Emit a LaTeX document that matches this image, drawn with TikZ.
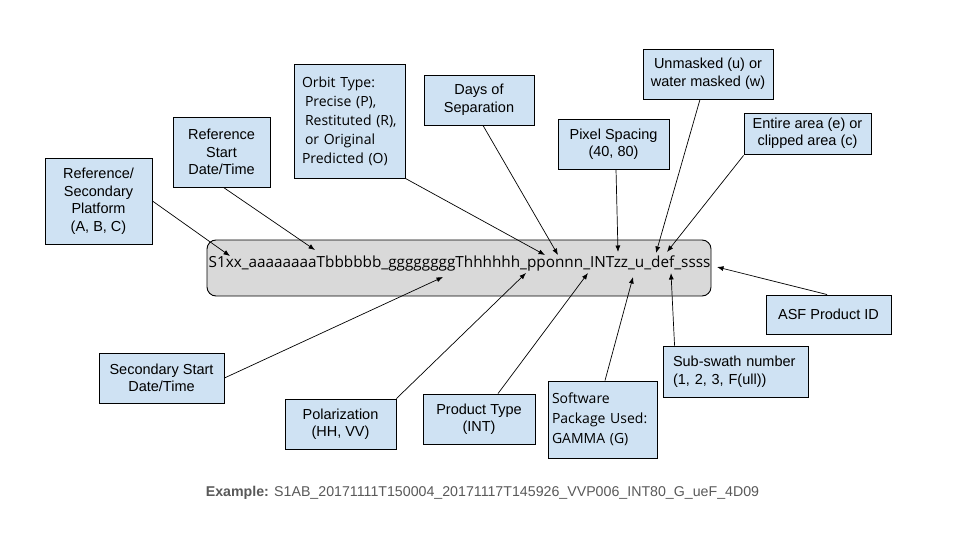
\documentclass[tikz,border=0pt]{standalone}
\usepackage{fontspec}
\setmainfont{Liberation Sans}
\newfontfamily\opensans{Open Sans}
\usepackage{xcolor}
\usepackage{tikz}
\usetikzlibrary{arrows.meta,calc}
\definecolor{fieldBlue}{RGB}{207,226,243}
\definecolor{nameGray}{RGB}{217,217,217}
\definecolor{exampleGray}{RGB}{89,89,89}

\tikzset{
  field/.style={draw=black, fill=fieldBlue, line width=0.9pt, inner sep=0pt,
    align=center, font=\fontsize{14.5}{17.5}\selectfont},
  pointer/.style={black, line width=0.7pt, -{Latex[length=6.5pt,width=5pt]}},
}

\begin{document}
\begin{tikzpicture}[x=1pt,y=-1pt]
\useasboundingbox (0,0) rectangle (965,553);

% file name pattern
\node[draw=black, fill=nameGray, line width=0.9pt, rounded corners=9pt,
  minimum width=504pt, minimum height=56pt] (fname) at (459,268) {};
\node[inner sep=0pt, font=\opensans\fontsize{15.3}{17}\selectfont] (fnamestr) at (459.5,263)
  {S1xx\_aaaaaaaaTbbbbbb\_ggggggggThhhhhh\_pponnn\_INTzz\_u\_def\_ssss};

% field boxes above
\node[field, minimum width=107pt, minimum height=86pt] (platform) at (98.5,201)
  {Reference/\\Secondary\\Platform\\(A, B, C)};
\node[field, minimum width=97pt, minimum height=70pt] (refstart) at (221.5,152)
  {Reference\\Start\\Date/Time};
\node[field, minimum width=111pt, minimum height=114pt, text width=95pt, align=left,
  font=\opensans\fontsize{14}{19}\selectfont] (orbit) at (349.5,121)
  {Orbit Type:\\\hspace*{3pt}Precise (P),\\\hspace*{3pt}Restituted (R),\\\hspace*{3pt}or Original\\Predicted (O)};
\node[field, minimum width=110pt, minimum height=50pt] (days) at (479,100)
  {Days of\\Separation};
\node[field, minimum width=130pt, minimum height=50pt] (unmask) at (708,74)
  {Unmasked (u) or\\water masked (w)};
\node[field, minimum width=111pt, minimum height=50pt] (pixel) at (613.5,144)
  {Pixel Spacing\\(40, 80)};
\node[field, minimum width=127pt, minimum height=41pt] (entire) at (807.5,133.5)
  {Entire area (e) or\\clipped area (c)};

% field boxes below
\node[field, minimum width=125pt, minimum height=39pt] (asf) at (828.5,314.5)
  {ASF Product ID};
\node[field, minimum width=125pt, minimum height=50pt] (secstart) at (161.5,378)
  {Secondary Start\\Date/Time};
\node[field, minimum width=111pt, minimum height=50pt] (polar) at (340.5,424)
  {Polarization\\(HH, VV)};
\node[field, minimum width=112pt, minimum height=50pt] (prodtype) at (479,419)
  {Product Type\\(INT)};
\node[field, minimum width=109pt, minimum height=77pt, text width=101pt, align=left,
  font=\opensans\fontsize{14}{20}\selectfont] (software) at (602.5,419.5)
  {Software\\Package Used:\\GAMMA (G)};
\node[field, minimum width=145pt, minimum height=51pt, text width=125pt, align=left] (subswath) at (735.5,371.5)
  {Sub-swath number\\(1, 2, 3, F(ull))};

% where the arrows land in the name
\coordinate (tPlatform) at (230,256);
\coordinate (tRefstart) at (315,250);
\coordinate (tOrbit) at (545,255);
\coordinate (tDays) at (558,255);
\coordinate (tPixel) at (618,252);
\coordinate (tUnmask) at (656,253);
\coordinate (tEntire) at (667,252);
\coordinate (tAsf) at (717,267);
\coordinate (tSecstart) at (443,277);
\coordinate (tPolar) at (526,273);
\coordinate (tProdtype) at (588,273);
\coordinate (tSoftware) at (633,277);
\coordinate (tSubswath) at (671,273);

\draw[pointer] (platform.east) -- (tPlatform);
\draw[pointer] ([xshift=2pt]refstart.south) -- (tRefstart);
\draw[pointer] (orbit.south east) -- (tOrbit);
\draw[pointer] ([xshift=4pt]days.south) -- (tDays);
\draw[pointer] ([xshift=2.5pt]pixel.south) -- (tPixel);
\draw[pointer] ([xshift=-8pt]unmask.south) -- (tUnmask);
\draw[pointer] ([yshift=-1pt]entire.south west) -- (tEntire);
\draw[pointer] ([xshift=-1.5pt]asf.north) -- (tAsf);
\draw[pointer] (secstart.east) -- (tSecstart);
\draw[pointer] (polar.north east) -- (tPolar);
\draw[pointer] ([xshift=19pt]prodtype.north) -- (tProdtype);
\draw[pointer] ([xshift=2.5pt]software.north) -- (tSoftware);
\draw[pointer] ([xshift=12pt]subswath.north west) -- (tSubswath);

% example
\node[text=exampleGray, font=\fontsize{14.2}{16}\selectfont] (example) at (482.5,493)
  {\textbf{Example:} S1AB\_20171111T150004\_20171117T145926\_VVP006\_INT80\_G\_ueF\_4D09};
\end{tikzpicture}
\end{document}
